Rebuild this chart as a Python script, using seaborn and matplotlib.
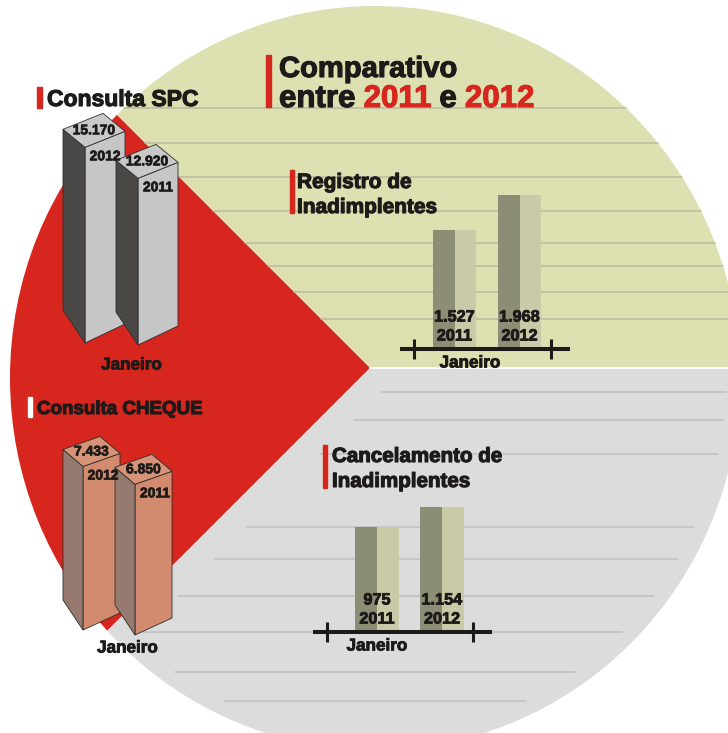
import matplotlib
matplotlib.use("Agg")
import matplotlib.pyplot as plt
import matplotlib.patheffects as pe
from matplotlib.patches import Ellipse, Polygon, Rectangle
import numpy as np
import pandas as pd
import seaborn as sns

# dados - comparativo Janeiro 2011 x 2012
mes = "Janeiro"

spc_anos = ["2012", "2011"]
spc_valores = [15170, 12920]
spc_rotulos = ["15.170", "12.920"]

cheque_anos = ["2012", "2011"]
cheque_valores = [7433, 6850]
cheque_rotulos = ["7.433", "6.850"]

registro_anos = ["2011", "2012"]
registro_valores = [1527, 1968]
registro_rotulos = ["1.527", "1.968"]

cancel_anos = ["2011", "2012"]
cancel_valores = [975, 1154]
cancel_rotulos = ["975", "1.154"]

# cores
VERMELHO = "#d6261d"
AMARELO = "#dde0b0"
CINZA = "#dcdcdc"
TEXTO = "#1d1a1a"
ESCURA = "#8b8d75"
CLARA = "#c9caa8"

W, H = 728, 733

sns.set_style("white")
plt.rcParams["font.family"] = ["Liberation Sans", "DejaVu Sans"]
plt.rcParams["font.weight"] = "bold"


def grosso(cor, lw=0.8):
    # engrossa o texto, a fonte original e mais pesada
    return [pe.withStroke(linewidth=lw, foreground=cor)]


fig = plt.figure(figsize=(W / 100, H / 100), dpi=100)
bg = fig.add_axes([0, 0, 1, 1])
bg.set_xlim(0, W)
bg.set_ylim(H, 0)
bg.axis("off")

# disco de fundo com tres fatias
CX, CY, RA, RB = 375, 378, 365, 372
AX_, AY_ = 370, 368
disco = Ellipse((CX, CY), 2 * RA, 2 * RB, facecolor="none", edgecolor="none")
bg.add_patch(disco)
far = 900
fatias = [
    (AMARELO, [(AX_, AY_), (AX_ - far, AY_ - far), (AX_ + far, AY_ - far), (AX_ + far, AY_)]),
    (VERMELHO, [(AX_, AY_), (AX_ - far, AY_ - far), (AX_ - far, AY_ + far)]),
    (CINZA, [(AX_, AY_), (AX_ - far, AY_ + far), (AX_ + far, AY_ + far), (AX_ + far, AY_)]),
]
for cor, pts in fatias:
    p = Polygon(pts, closed=True, facecolor=cor, edgecolor="none")
    bg.add_patch(p)
    p.set_clip_path(disco)


def meia_largura(y, enc=0):
    a, b = RA - enc, RB - enc
    t = 1 - ((y - CY) / b) ** 2
    return a * np.sqrt(t) if t > 0 else 0


linhas_amarelo = [108, 143, 177, 211, 243, 266, 292, 319]
linhas_cinza = [392, 420, 454, 527, 559, 596, 632, 672, 701]
for y in linhas_amarelo:
    hw = meia_largura(y)
    x0 = max(AX_ - (AY_ - y), CX - hw)
    bg.plot([x0, CX + hw], [y, y], color="#b9bb9e", lw=1.1, zorder=1.5)
for y in linhas_cinza:
    hw = meia_largura(y, 14)
    x0 = max(AX_ - (y - AY_) + 36, CX - hw)
    bg.plot([x0, CX + hw], [y, y], color="#c0c0c0", lw=1.1, zorder=1.5)
bg.plot([AX_, W], [AY_, AY_], color="white", lw=1.2, zorder=1.5)


def txt(x, y, s, size, color=TEXTO, **kw):
    return bg.text(x, y, s, fontsize=size, color=color, fontweight="bold",
                   ha=kw.pop("ha", "left"), va=kw.pop("va", "baseline"),
                   path_effects=grosso(color), zorder=4, **kw)


# titulo principal
bg.add_patch(Rectangle((266, 55), 5, 52, color=VERMELHO, zorder=3))
txt(279, 77, "Comparativo", 21)
rend = fig.canvas.get_renderer()
x = 279
for pedaco, cor in [("entre", TEXTO), ("2011", VERMELHO), ("e", TEXTO), ("2012", VERMELHO)]:
    t = txt(x, 107, pedaco, 22.5, color=cor)
    x += t.get_window_extent(rend).width + 8

# titulos dos blocos
bg.add_patch(Rectangle((37, 87), 5, 21, color=VERMELHO, zorder=3))
txt(47, 106, "Consulta SPC", 16.5)
bg.add_patch(Rectangle((28, 397), 4, 20, color="white", zorder=3))
txt(37, 414, "Consulta CHEQUE", 13.5)
bg.add_patch(Rectangle((290, 170), 4, 43, color=VERMELHO, zorder=3))
txt(297, 188, "Registro de", 15)
txt(297, 213, "Inadimplentes", 15)
bg.add_patch(Rectangle((323, 445), 4, 43, color=VERMELHO, zorder=3))
txt(332, 462, "Cancelamento de", 14.8)
txt(332, 487, "Inadimplentes", 14.8)


def inset(left, right, top, bottom):
    ax = fig.add_axes([left / W, 1 - bottom / H, (right - left) / W, (bottom - top) / H])
    ax.set_facecolor("none")
    return ax


PT = 0.72  # pontos por pixel


def caixas(c0, px_x, base, px_y, ymax, queda, meia, g, anos, valores, rotulos, cores, mes_dy):
    ax = inset(c0 - px_x / 2, c0 + 1.5 * px_x, base - ymax * px_y, base)
    ax.set_xlim(-0.5, 1.5)
    ax.set_ylim(0, ymax)
    ax.axis("off")
    ux, uy = 1 / px_x, 1 / px_y
    wt = (g["wt"][0] * ux, g["wt"][1] * uy)
    wb = (g["wb"][0] * ux, g["wb"][1] * uy)
    dt = (g["dt"][0] * ux, g["dt"][1] * uy)
    db = (g["db"][0] * ux, g["db"][1] * uy)
    frente, topo, lado = cores
    for i, v in enumerate(valores):
        y0 = -i * queda * uy
        y1 = y0 + v
        xl = i - meia * ux
        kw = dict(edgecolor="#2e2e2e", lw=0.6, clip_on=False, zorder=2 + i)
        ax.fill([xl, xl + wb[0], xl + wt[0], xl], [y0, y0 + wb[1], y1 + wt[1], y1], facecolor=frente, **kw)
        ax.fill([xl, xl + dt[0], xl + db[0], xl], [y1, y1 + dt[1], y0 + db[1], y0], facecolor=lado, **kw)
        ax.fill([xl, xl + wt[0], xl + wt[0] + dt[0], xl + dt[0]],
                [y1, y1 + wt[1], y1 + wt[1] + dt[1], y1 + dt[1]], facecolor=topo, **kw)
        ax.annotate(rotulos[i], xy=(xl + (wt[0] + dt[0]) / 2, y1 + (wt[1] + dt[1]) / 2),
                    ha="center", va="center", fontsize=10, fontweight="bold", color=TEXTO,
                    annotation_clip=False, zorder=10, path_effects=grosso(TEXTO, 0.5))
        ax.annotate(anos[i], xy=(xl, y1), xytext=(20 * PT, -9 * PT), textcoords="offset points",
                    ha="center", va="center", fontsize=10, fontweight="bold", color=TEXTO,
                    annotation_clip=False, zorder=10, path_effects=grosso(TEXTO, 0.5))
    ax.annotate(mes, xy=(0.5, 0), xytext=(0, -mes_dy * PT), textcoords="offset points",
                ha="center", va="center", fontsize=12.3, fontweight="bold", color=TEXTO,
                annotation_clip=False, path_effects=grosso(TEXTO, 0.6))
    return ax


caixas(105, 53, 343, 0.0129, 19000, 2, 20,
       dict(wt=(40, 16), wb=(40, 19), dt=(-22, 18), db=(-22, 33)),
       spc_anos, spc_valores, spc_rotulos, ("#c6c6c6", "#c9c9c9", "#4a4747"), 22)
caixas(101.5, 52, 630, 0.022, 9000, 5, 18.5,
       dict(wt=(37, 13), wb=(37, 17), dt=(-20, 17), db=(-20, 30)),
       cheque_anos, cheque_valores, cheque_rotulos, ("#d28b6e", "#d69377", "#967a70"), 18)


def barras_planas(c0, base, x_esq, x_dir, px_y, ymax, anos, valores, rotulos, ticks_px, mes_px, px_x=65):
    ax = inset(x_esq, x_dir, base - ymax * px_y, base)
    df = pd.DataFrame({
        "ano": np.repeat(anos, 2),
        "valor": np.repeat(valores, 2),
        "face": ["escura", "clara"] * len(anos),
    })
    sns.barplot(data=df, x="ano", y="valor", hue="face", palette=[ESCURA, CLARA],
                width=0.67, saturation=1, errorbar=None, legend=False, linewidth=0, ax=ax)
    ax.set_xlim((x_esq - c0) / px_x, (x_dir - c0) / px_x)
    ax.set_ylim(0, ymax)
    for s in ["top", "right", "left"]:
        ax.spines[s].set_visible(False)
    ax.spines["bottom"].set_linewidth(2.9)
    ax.spines["bottom"].set_color(TEXTO)
    ax.set_xticks([(t - c0) / px_x for t in ticks_px])
    ax.set_yticks([])
    ax.tick_params(axis="x", bottom=True, direction="inout", length=13.7, width=2.2,
                   color=TEXTO, labelbottom=False)
    ax.set_xlabel("")
    ax.set_ylabel("")
    for i in range(len(anos)):
        ax.annotate(rotulos[i], xy=(i, 0), xytext=(0, 32 * PT), textcoords="offset points",
                    ha="center", va="center", fontsize=11.7, fontweight="bold", color=TEXTO,
                    path_effects=grosso(TEXTO, 0.6))
        ax.annotate(anos[i], xy=(i, 0), xytext=(0, 13 * PT), textcoords="offset points",
                    ha="center", va="center", fontsize=11.7, fontweight="bold", color=TEXTO,
                    path_effects=grosso(TEXTO, 0.6))
    ax.annotate(mes, xy=((mes_px - c0) / px_x, 0), xytext=(0, -14 * PT), textcoords="offset points",
                ha="center", va="center", fontsize=12.3, fontweight="bold", color=TEXTO,
                annotation_clip=False, path_effects=grosso(TEXTO, 0.6))
    return ax


barras_planas(454.5, 349, 402, 568, 0.078, 2400, registro_anos, registro_valores,
              registro_rotulos, [414, 551], 470)
barras_planas(377, 632, 315, 490, 0.108, 1500, cancel_anos, cancel_valores,
              cancel_rotulos, [327, 473], 377)

fig.savefig("out.png", dpi=100)
